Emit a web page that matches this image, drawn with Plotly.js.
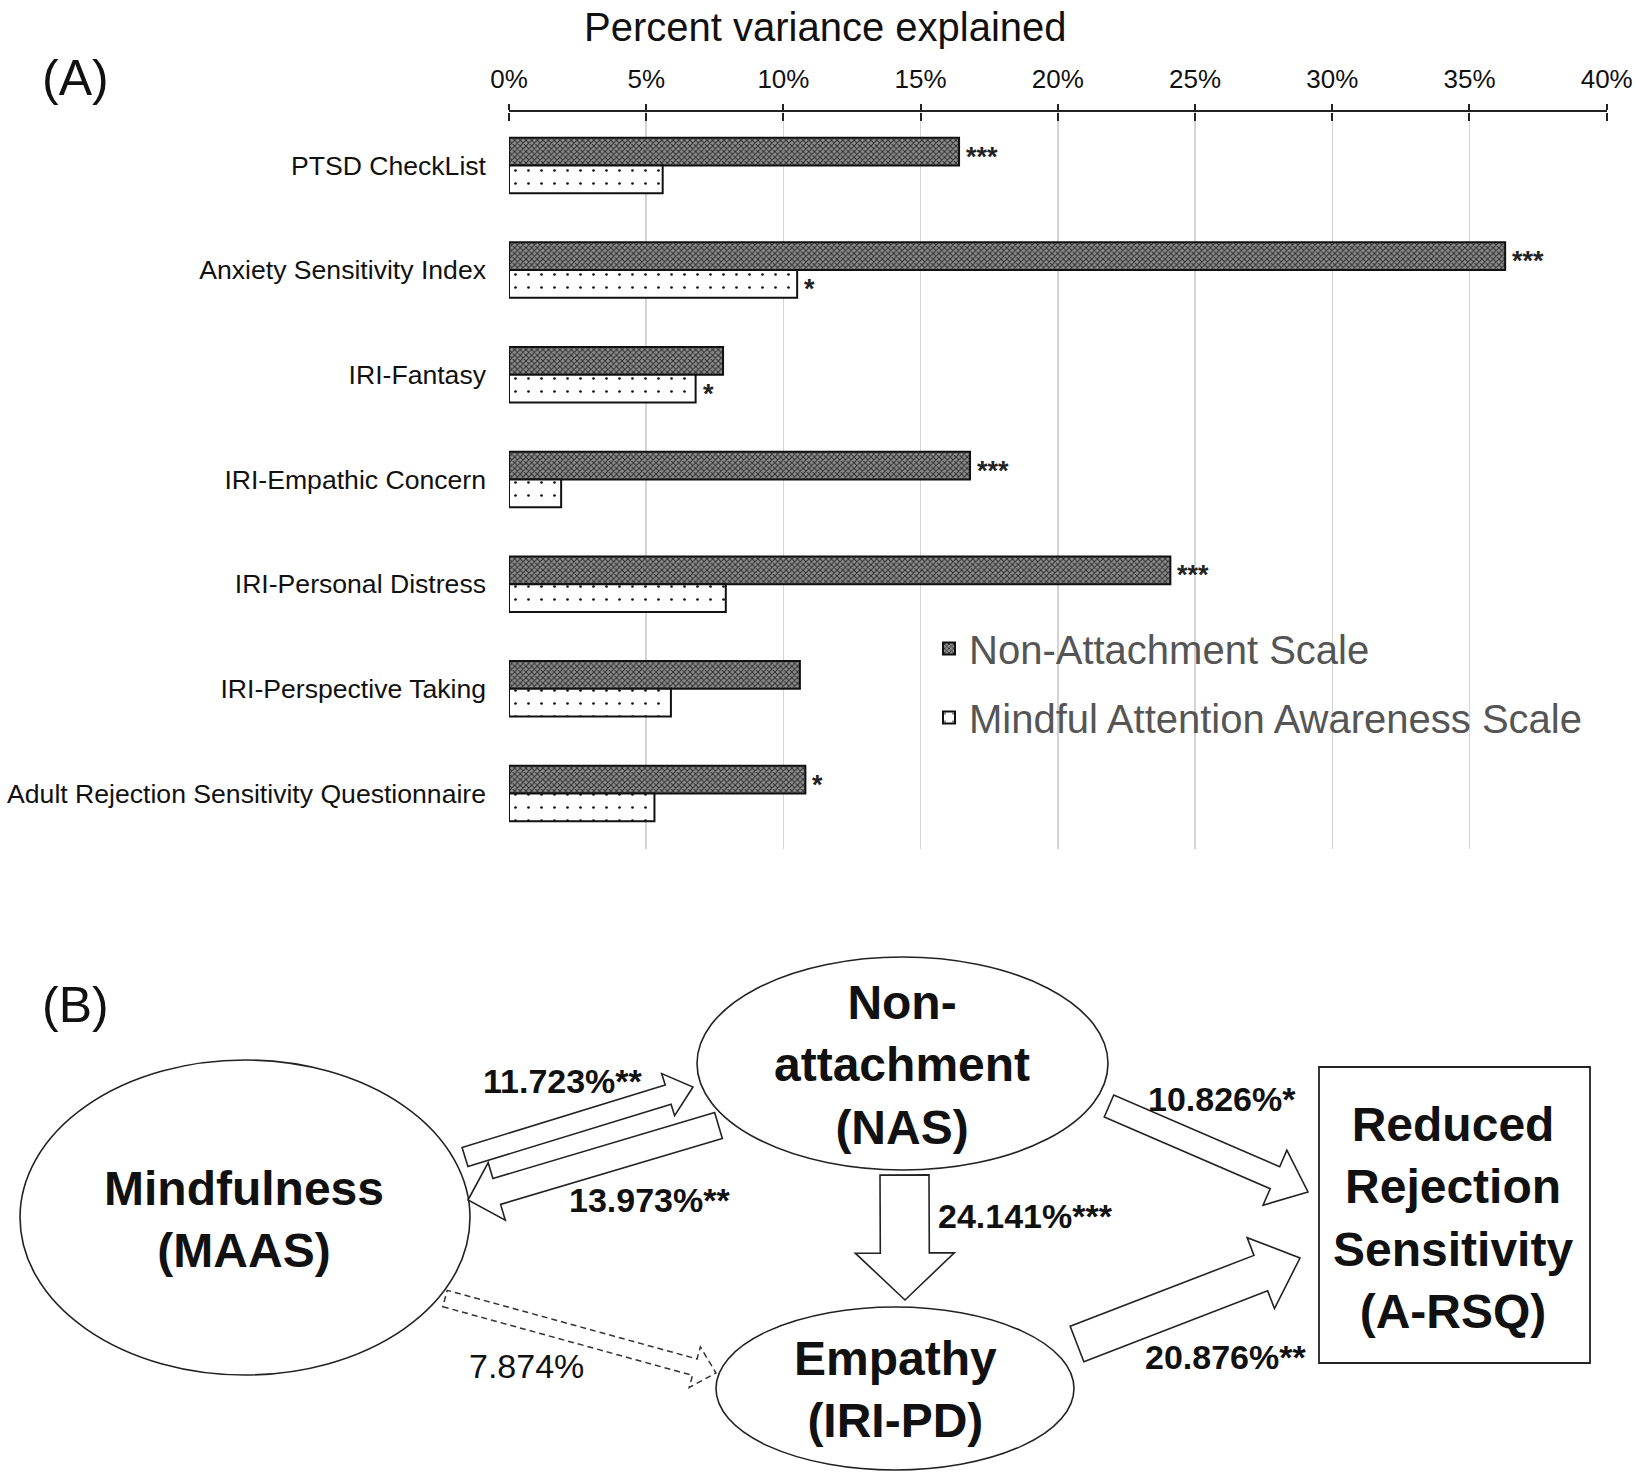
<!DOCTYPE html>
<html>
<head>
<meta charset="utf-8">
<script src="https://cdn.plot.ly/plotly-3.0.1.min.js"></script>
<style>html,body{margin:0;padding:0;background:#fff;}</style>
</head>
<body>
<div id="chart" style="width:1640px;height:1478px;"></div>
<script>
// ---------- Panel A data ----------
const categories = [
  'PTSD CheckList',
  'Anxiety Sensitivity Index',
  'IRI-Fantasy',
  'IRI-Empathic Concern',
  'IRI-Personal Distress',
  'IRI-Perspective Taking',
  'Adult Rejection Sensitivity Questionnaire'
];
const nasValues  = [16.4, 36.3, 7.8, 16.8, 24.1, 10.6, 10.8];
const maasValues = [5.6, 10.5, 6.8, 1.9, 7.9, 5.9, 5.3];
const nasSig  = ['***', '***', '', '***', '***', '', '*'];
const maasSig = ['', '*', '*', '', '', '', ''];
const seriesNames = ['Non-Attachment Scale', 'Mindful Attention Awareness Scale'];
const xTickVals = [0, 5, 10, 15, 20, 25, 30, 35, 40];
const xTickText = ['0%', '5%', '10%', '15%', '20%', '25%', '30%', '35%', '40%'];
const axisTitle = 'Percent variance explained';

// ---------- Panel B data ----------
const nodeMindfulness = 'Mindfulness<br>(MAAS)';
const nodeNonAttach = 'Non-<br>attachment<br>(NAS)';
const nodeEmpathy = 'Empathy<br>(IRI-PD)';
const nodeOutcome = 'Reduced<br>Rejection<br>Sensitivity<br>(A-RSQ)';
const pathLabels = ['11.723%**', '13.973%**', '24.141%***', '10.826%*', '20.876%**', '7.874%'];

// ---------- helpers (page pixel -> paper) ----------
const W = 1640, H = 1478;
const px = x => x / W;
const py = y => 1 - y / H;
const FONT = 'Liberation Sans, Arial, sans-serif';

function blockArrow(tail, tip, sw, hw, hl) {
  const dx = tip[0] - tail[0], dy = tip[1] - tail[1];
  const L = Math.hypot(dx, dy);
  const ux = dx / L, uy = dy / L, nx = -uy, ny = ux;
  const bx = tip[0] - ux * hl, by = tip[1] - uy * hl;
  const pts = [
    [tail[0] + nx * sw / 2, tail[1] + ny * sw / 2],
    [bx + nx * sw / 2, by + ny * sw / 2],
    [bx + nx * hw / 2, by + ny * hw / 2],
    [tip[0], tip[1]],
    [bx - nx * hw / 2, by - ny * hw / 2],
    [bx - nx * sw / 2, by - ny * sw / 2],
    [tail[0] - nx * sw / 2, tail[1] - ny * sw / 2]
  ];
  return 'M' + pts.map(p => px(p[0]).toFixed(5) + ',' + py(p[1]).toFixed(5)).join(' L') + ' Z';
}

const BARGAP = 0.47;
const halfOffset = (1 - BARGAP) / 4; // centre offset of each bar within a group

const traces = [
  {
    type: 'bar', orientation: 'h', name: seriesNames[0], legendgroup: 'g1',
    y: categories, x: nasValues,
    marker: {
      color: '#8a8a8a',
      line: {color: '#111', width: 2},
      pattern: {shape: 'x', size: 4, solidity: 0.45, fgcolor: '#2e2e2e', bgcolor: '#8e8e8e', fillmode: 'replace'}
    },
    hoverinfo: 'skip'
  },
  {
    type: 'bar', orientation: 'h', name: seriesNames[1], legendgroup: 'g2',
    y: categories, x: maasValues,
    marker: {
      color: '#ffffff',
      line: {color: '#111', width: 2},
      pattern: {shape: '.', size: 13, solidity: 0.035, fgcolor: '#111', bgcolor: '#ffffff', fillmode: 'replace'}
    },
    hoverinfo: 'skip'
  },
  // carrier for the lower half of the crossing tick marks
  {type: 'scatter', x: [], y: [], xaxis: 'x3', yaxis: 'y', showlegend: false, hoverinfo: 'skip'}
];

const plotTop = 112, plotBottom = 849, plotLeft = 509, plotRight = 1606.7;

const shapes = [
  {type: 'circle', xref: 'paper', yref: 'paper', x0: px(20), x1: px(470), y0: py(1060), y1: py(1375), line: {color: '#222', width: 1.6}, fillcolor: 'rgba(0,0,0,0)', layer: 'above'},
  {type: 'circle', xref: 'paper', yref: 'paper', x0: px(697), x1: px(1108), y0: py(957), y1: py(1170), line: {color: '#222', width: 1.6}, fillcolor: 'rgba(0,0,0,0)', layer: 'above'},
  {type: 'circle', xref: 'paper', yref: 'paper', x0: px(716), x1: px(1074), y0: py(1307), y1: py(1470), line: {color: '#222', width: 1.6}, fillcolor: 'rgba(0,0,0,0)', layer: 'above'},
  {type: 'rect', xref: 'paper', yref: 'paper', x0: px(1319), x1: px(1590), y0: py(1067), y1: py(1363), line: {color: '#222', width: 1.8}, fillcolor: 'rgba(0,0,0,0)', layer: 'above'},
  {type: 'path', xref: 'paper', yref: 'paper', path: blockArrow([465, 1157], [693, 1087], 20, 44, 26), line: {color: '#222', width: 1.6}, fillcolor: '#fff', layer: 'above'},
  {type: 'path', xref: 'paper', yref: 'paper', path: blockArrow([718.5, 1125.5], [468, 1200], 27, 60, 30), line: {color: '#222', width: 1.6}, fillcolor: '#fff', layer: 'above'},
  {type: 'path', xref: 'paper', yref: 'paper', path: blockArrow([904.5, 1175], [905, 1300], 49, 99, 47), line: {color: '#222', width: 1.6}, fillcolor: '#fff', layer: 'above'},
  {type: 'path', xref: 'paper', yref: 'paper', path: blockArrow([1109, 1106], [1308, 1192], 24, 60, 36), line: {color: '#222', width: 1.6}, fillcolor: '#fff', layer: 'above'},
  {type: 'path', xref: 'paper', yref: 'paper', path: blockArrow([1077, 1344], [1300, 1258], 38, 76, 42), line: {color: '#222', width: 1.6}, fillcolor: '#fff', layer: 'above'},
  {type: 'path', xref: 'paper', yref: 'paper', path: blockArrow([445, 1298.5], [716, 1373], 17, 42, 22), line: {color: '#333', width: 1.5, dash: '6px,4px'}, fillcolor: 'rgba(0,0,0,0)', layer: 'above'}
];

const nodeFont = {family: FONT, size: 48, color: '#111', weight: 'bold'};
const labFont = {family: FONT, size: 34, color: '#111', weight: 'bold'};
const starFont = {family: FONT, size: 27, color: '#222', weight: 'bold'};

const annotations = [
  {text: axisTitle, xref: 'paper', yref: 'paper', x: px(825), y: py(27), xanchor: 'center', yanchor: 'middle', showarrow: false, font: {family: FONT, size: 40, color: '#111'}},
  {text: '(A)', xref: 'paper', yref: 'paper', x: px(75), y: py(78), xanchor: 'center', yanchor: 'middle', showarrow: false, font: {family: FONT, size: 50, color: '#111'}},
  {text: '(B)', xref: 'paper', yref: 'paper', x: px(75), y: py(1005), xanchor: 'center', yanchor: 'middle', showarrow: false, font: {family: FONT, size: 50, color: '#111'}},
  {text: nodeMindfulness, xref: 'paper', yref: 'paper', x: px(244), y: py(1219), xanchor: 'center', yanchor: 'middle', showarrow: false, font: nodeFont, align: 'center'},
  {text: nodeNonAttach, xref: 'paper', yref: 'paper', x: px(902), y: py(1065), xanchor: 'center', yanchor: 'middle', showarrow: false, font: nodeFont, align: 'center'},
  {text: nodeEmpathy, xref: 'paper', yref: 'paper', x: px(895), y: py(1389), xanchor: 'center', yanchor: 'middle', showarrow: false, font: nodeFont, align: 'center'},
  {text: nodeOutcome, xref: 'paper', yref: 'paper', x: px(1453), y: py(1218), xanchor: 'center', yanchor: 'middle', showarrow: false, font: nodeFont, align: 'center'},
  {text: pathLabels[0], xref: 'paper', yref: 'paper', x: px(563), y: py(1081), xanchor: 'center', yanchor: 'middle', showarrow: false, font: labFont},
  {text: pathLabels[1], xref: 'paper', yref: 'paper', x: px(649), y: py(1200), xanchor: 'center', yanchor: 'middle', showarrow: false, font: labFont},
  {text: pathLabels[2], xref: 'paper', yref: 'paper', x: px(1025), y: py(1216), xanchor: 'center', yanchor: 'middle', showarrow: false, font: labFont},
  {text: pathLabels[3], xref: 'paper', yref: 'paper', x: px(1222), y: py(1099), xanchor: 'center', yanchor: 'middle', showarrow: false, font: labFont},
  {text: pathLabels[4], xref: 'paper', yref: 'paper', x: px(1225), y: py(1357), xanchor: 'center', yanchor: 'middle', showarrow: false, font: labFont},
  {text: pathLabels[5], xref: 'paper', yref: 'paper', x: px(526), y: py(1366), xanchor: 'center', yanchor: 'middle', showarrow: false, font: {family: FONT, size: 34, color: '#111'}}
];

// significance stars beside the bars, positioned through the chart's own axes
categories.forEach((c, i) => {
  if (nasSig[i]) annotations.push({text: nasSig[i], xref: 'x', yref: 'y', x: nasValues[i], y: i - halfOffset,
    xanchor: 'left', yanchor: 'middle', xshift: 5, yshift: -5, showarrow: false, font: starFont});
  if (maasSig[i]) annotations.push({text: maasSig[i], xref: 'x', yref: 'y', x: maasValues[i], y: i + halfOffset,
    xanchor: 'left', yanchor: 'middle', xshift: 5, yshift: -5, showarrow: false, font: starFont});
});

const layout = {
  width: W, height: H,
  margin: {l: 0, r: 0, t: 0, b: 0},
  paper_bgcolor: '#ffffff',
  plot_bgcolor: 'rgba(0,0,0,0)',
  font: {family: FONT, color: '#111'},
  barmode: 'group',
  bargap: BARGAP,
  bargroupgap: 0,
  hovermode: false,
  showlegend: true,
  legend: {
    x: px(929), y: py(616), xanchor: 'left', yanchor: 'top',
    font: {family: FONT, size: 40, color: '#555'},
    bgcolor: 'rgba(0,0,0,0)', borderwidth: 0,
    traceorder: 'grouped', tracegroupgap: 14
  },
  xaxis: {
    domain: [px(plotLeft), px(plotRight)],
    range: [0, 40], side: 'top', anchor: 'y',
    tickvals: xTickVals, ticktext: xTickText,
    tickfont: {family: FONT, size: 26, color: '#111'},
    ticks: 'outside', ticklen: 6, tickwidth: 2, tickcolor: '#222',
    ticklabelstandoff: 6,
    showline: true, linecolor: '#222', linewidth: 2,
    showgrid: true, gridcolor: '#d4d4d4', gridwidth: 1.5,
    zeroline: false, fixedrange: true
  },
  xaxis3: {
    overlaying: 'x', anchor: 'free', position: 1 - plotTop / H, side: 'bottom',
    domain: [px(plotLeft), px(plotRight)],
    range: [0, 40], tickvals: xTickVals, showticklabels: false,
    ticks: 'outside', ticklen: 8, tickwidth: 2, tickcolor: '#222',
    showline: false, showgrid: false, zeroline: false, fixedrange: true
  },
  yaxis: {
    domain: [1 - plotBottom / H, 1 - plotTop / H],
    anchor: 'x', type: 'category',
    range: [6.53, -0.51],
    tickfont: {family: FONT, size: 26.6, color: '#111'},
    ticks: '', ticklabelstandoff: 22,
    showline: false, showgrid: false, zeroline: false, fixedrange: true
  },
  shapes: shapes,
  annotations: annotations
};

Plotly.newPlot('chart', traces, layout, {displayModeBar: false, staticPlot: true});
</script>
</body>
</html>
